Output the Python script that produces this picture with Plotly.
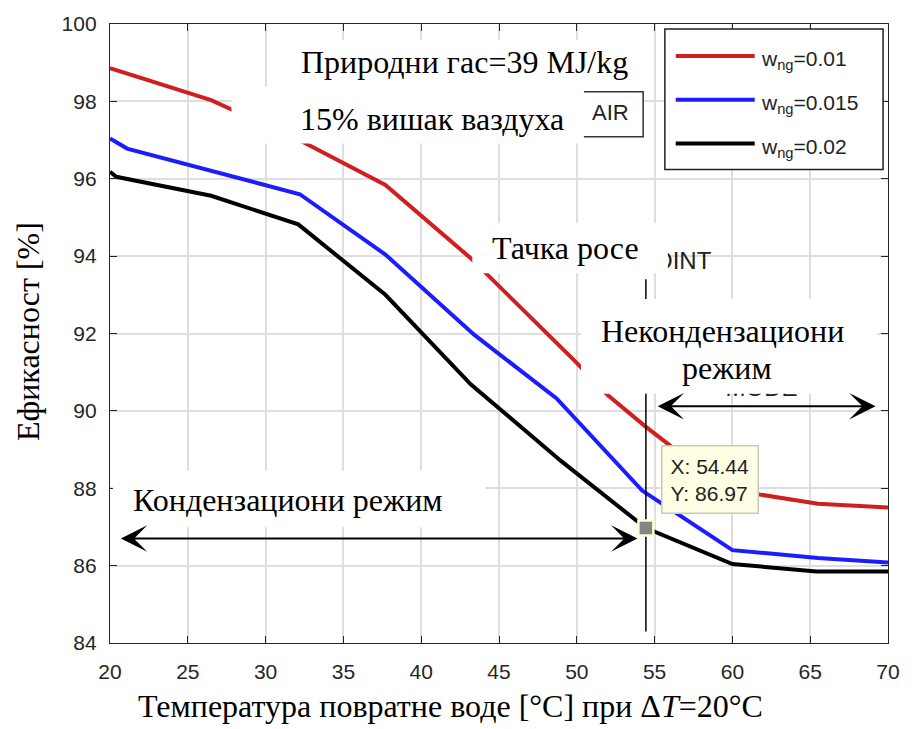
import plotly.graph_objects as go

# ---------------- data ----------------
T_red = [20, 26.5, 32.4, 37.7, 43.2, 49.9, 52.0, 54.4, 56.0, 60.0, 65.5, 70]
E_red = [98.86, 98.03, 96.95, 95.84, 93.94, 91.28, 90.40, 89.60, 89.10, 87.95, 87.60, 87.50]

T_blue = [20, 21.1, 32.2, 37.7, 43.4, 48.7, 54.2, 60.0, 65.5, 70]
E_blue = [97.04, 96.78, 95.60, 94.04, 91.97, 90.32, 87.94, 86.40, 86.20, 86.08]

T_black = [20, 20.4, 26.5, 32.1, 37.7, 43.2, 49.0, 54.44, 60.0, 65.4, 70]
E_black = [96.18, 96.05, 95.56, 94.82, 93.00, 90.68, 88.70, 86.97, 86.04, 85.85, 85.85]

series_names = ["0.01", "0.015", "0.02"]
series_colors = ["#d11f1f", "#1c1cff", "#000000"]

dew_x = [54.44]
dew_y = [86.97]
dew_line_y = [84.3, 93.4]

x_ticks = [20, 25, 30, 35, 40, 45, 50, 55, 60, 65, 70]
y_ticks = [84, 86, 88, 90, 92, 94, 96, 98, 100]

# ---------------- layout geometry (pixels) ----------------
W, H = 912, 729
L, R, T, B = 110, 898, 22, 643


def px(x):
    return (x - L) / (R - L)


def py(y):
    return (B - y) / (B - T)


def dx(x):
    return 20 + (x - L) / (R - L) * 50


def dy(y):
    return 100 - (y - T) / (B - T) * 16


SERIF = "Liberation Serif, Times New Roman, serif"
SANS = "Liberation Sans, Arial, sans-serif"

fig = go.Figure()

for xs, ys, c in zip([T_red, T_blue, T_black], [E_red, E_blue, E_black], series_colors):
    fig.add_trace(go.Scatter(x=xs, y=ys, mode="lines",
                             line=dict(color=c, width=4), showlegend=False,
                             hoverinfo="skip"))

# dew point vertical line
fig.add_trace(go.Scatter(x=[dew_x[0], dew_x[0]], y=dew_line_y, mode="lines",
                         line=dict(color="black", width=1.5), showlegend=False))

# remnant texts (partially covered by white boxes)
fig.add_trace(go.Scatter(x=[dx(690)], y=[dy(262)],
                         mode="text", text=["OINT"],
                         textfont=dict(family=SANS, size=24, color="#222"),
                         showlegend=False))
fig.add_trace(go.Scatter(x=[dx(770)], y=[dy(389)],
                         mode="text", text=["MODE"],
                         textfont=dict(family=SANS, size=24, color="#222"),
                         showlegend=False))

# datatip marker
fig.add_trace(go.Scatter(x=dew_x, y=dew_y, mode="markers",
                         marker=dict(symbol="square", size=15, color="#858585",
                                     line=dict(color="#ffffd0", width=2.5)),
                         showlegend=False))

shapes = []


def white_box(x0, y0, x1, y1):
    shapes.append(dict(type="rect", xref="paper", yref="paper",
                       x0=px(x0), x1=px(x1), y0=py(y1), y1=py(y0),
                       fillcolor="white", line=dict(width=0), layer="above"))


# AIR box remnant (drawn first, then partially covered)
shapes.append(dict(type="rect", xref="paper", yref="paper",
                   x0=px(560), x1=px(650), y0=py(135), y1=py(90),
                   fillcolor="white", line=dict(color="#333", width=1.5), layer="above"))

white_box(295, 38, 648, 85)     # Природни гас
white_box(233, 85, 590, 142)    # 15% вишак
white_box(477, 222, 675, 272)   # Тачка росе
white_box(587, 298, 887, 393)   # Некондензациони режим
white_box(113, 470, 490, 527)   # Кондензациони режим

# legend box
shapes.append(dict(type="rect", xref="paper", yref="paper",
                   x0=px(672), x1=px(893), y0=py(168), y1=py(27),
                   fillcolor="white", line=dict(color="#222", width=1.5), layer="above"))
leg_y = [54, 98, 142]
for yy, c in zip(leg_y, series_colors):
    shapes.append(dict(type="line", xref="paper", yref="paper",
                       x0=px(683), x1=px(763), y0=py(yy), y1=py(yy),
                       line=dict(color=c, width=4), layer="above"))

annotations = []


def txt(x, y, s, size, family=SERIF, xanchor="center", color="black", **kw):
    annotations.append(dict(xref="paper", yref="paper", x=px(x), y=py(y), text=s,
                            showarrow=False, xanchor=xanchor, yanchor="middle",
                            font=dict(family=family, size=size, color=color), **kw))


txt(469, 60, "Природни гас=39 MJ/kg", 32)
txt(436, 117, "15% вишак ваздуха", 32)
txt(617, 111, "AIR", 22, family=SANS, color="#222")
txt(571, 247, "Тачка росе", 32)
txt(730, 330, "Некондензациони", 32)
txt(735, 367, "режим", 32)
txt(290, 500, "Кондензациони режим", 32)

for yy, name in zip(leg_y, series_names):
    txt(767, yy + 4, "w<sub>ng</sub>=" + name, 21, family=SANS, xanchor="left", color="#222")

# axis titles
txt(455, 706, "Температура повратне воде [°C] при Δ<i>T</i>=20°C", 32)
annotations.append(dict(xref="paper", yref="paper", x=px(27), y=py(331),
                        text="Ефикасност [%]", showarrow=False, textangle=-90,
                        xanchor="center", yanchor="middle",
                        font=dict(family=SERIF, size=32, color="black")))

# datatip box
annotations.append(dict(xref="paper", yref="paper", x=px(668), y=py(444),
                        xanchor="left", yanchor="top", showarrow=False,
                        text="X: 54.44<br>Y: 86.97", align="left",
                        font=dict(family=SANS, size=21, color="#222"),
                        bgcolor="#ffffe3", bordercolor="#c9c9b8", borderwidth=1.5,
                        borderpad=8))

# double-headed arrows
annotations.append(dict(xref="x", yref="y", axref="x", ayref="y",
                        x=53.9, y=86.7, ax=20.6, ay=86.7, text="",
                        showarrow=True, arrowhead=3, startarrowhead=3, arrowside="end+start",
                        arrowsize=2.2, startarrowsize=2.2, arrowwidth=2, arrowcolor="black"))
annotations.append(dict(xref="x", yref="y", axref="x", ayref="y",
                        x=69.2, y=90.12, ax=55.1, ay=90.12, text="",
                        showarrow=True, arrowhead=3, startarrowhead=3, arrowside="end+start",
                        arrowsize=2.2, startarrowsize=2.2, arrowwidth=2, arrowcolor="black"))

axis_common = dict(showline=True, linecolor="#262626", linewidth=1.3, mirror="ticks",
                   ticks="inside", ticklen=7, tickwidth=1.3, tickcolor="#262626",
                   showgrid=True, gridcolor="#dedede", gridwidth=1.5, zeroline=False,
                   tickfont=dict(family=SANS, size=21, color="#262626"))

fig.update_layout(
    width=W, height=H,
    margin=dict(l=L, r=W - R, t=T, b=H - B),
    plot_bgcolor="white", paper_bgcolor="white",
    xaxis=dict(range=[20, 70], tickvals=x_ticks, ticklabelstandoff=10, **axis_common),
    yaxis=dict(range=[84, 100], tickvals=y_ticks, ticklabelstandoff=8, **axis_common),
    shapes=shapes, annotations=annotations, showlegend=False,
)

fig.write_html("out.html")
